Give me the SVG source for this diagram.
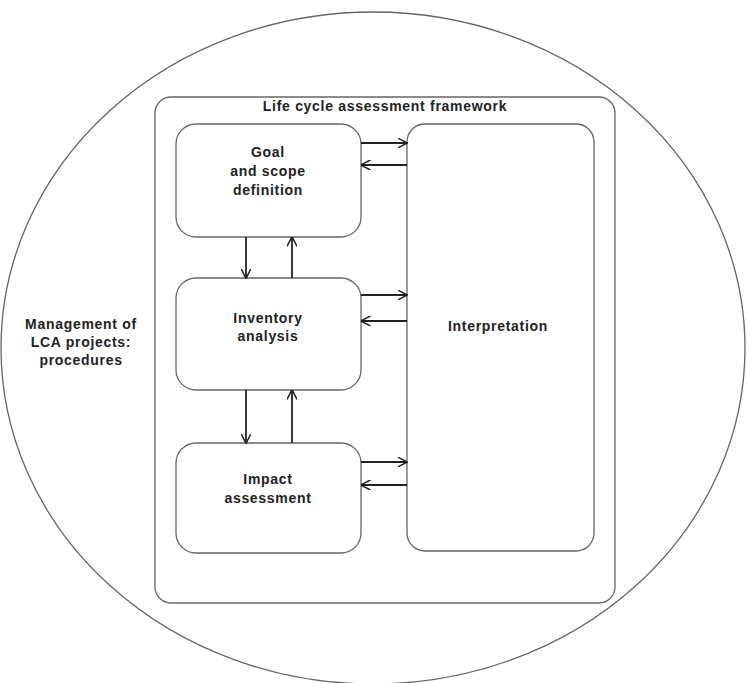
<svg xmlns="http://www.w3.org/2000/svg" width="747" height="683" viewBox="0 0 747 683">
<style>
.b{fill:#fff;stroke:#666;stroke-width:1.3}
.t{font-family:"Liberation Sans",Arial,sans-serif;font-weight:bold;font-size:14px;letter-spacing:0.7px;fill:#222;text-anchor:middle}
.c{stroke:#222;stroke-width:1.8;fill:none;marker-end:url(#a)}
</style>
<defs>
<marker id="a" viewBox="0 0 10 10" refX="9.5" refY="5" markerWidth="10" markerHeight="10" markerUnits="userSpaceOnUse" orient="auto">
<path d="M0,0 L10,5 L0,10" fill="none" stroke="#222" stroke-width="1.5"/>
</marker>
</defs>
<rect width="747" height="683" fill="#fff"/>
<g id="management">
<ellipse class="b" cx="373" cy="348" rx="372" ry="336"/>
<text class="t" x="81" y="329">Management of</text>
<text class="t" x="81" y="347">LCA projects:</text>
<text class="t" x="81" y="365">procedures</text>
</g>
<g id="framework">
<rect class="b" x="155" y="97" width="460" height="506" rx="16"/>
<text class="t" x="385" y="111">Life cycle assessment framework</text>
</g>
<g id="goal">
<rect class="b" x="176" y="124" width="185" height="113" rx="20"/>
<text class="t" x="268" y="157">Goal</text>
<text class="t" x="268" y="176">and scope</text>
<text class="t" x="268" y="195">definition</text>
</g>
<g id="inventory">
<rect class="b" x="176" y="278" width="185" height="112" rx="20"/>
<text class="t" x="268" y="323">Inventory</text>
<text class="t" x="268" y="341">analysis</text>
</g>
<g id="impact">
<rect class="b" x="176" y="443" width="185" height="110" rx="20"/>
<text class="t" x="268" y="484">Impact</text>
<text class="t" x="268" y="503">assessment</text>
</g>
<g id="interpretation">
<rect class="b" x="407" y="124" width="187" height="427" rx="18"/>
<text class="t" x="498" y="331">Interpretation</text>
</g>
<g id="connectors">
<path class="c" d="M361,143 H407"/>
<path class="c" d="M407,165 H361"/>
<path class="c" d="M361,295 H407"/>
<path class="c" d="M407,321 H361"/>
<path class="c" d="M361,462 H407"/>
<path class="c" d="M407,485 H361"/>
<path class="c" d="M246,237 V278"/>
<path class="c" d="M292,278 V237"/>
<path class="c" d="M246,390 V443"/>
<path class="c" d="M292,443 V390"/>
</g>
</svg>
